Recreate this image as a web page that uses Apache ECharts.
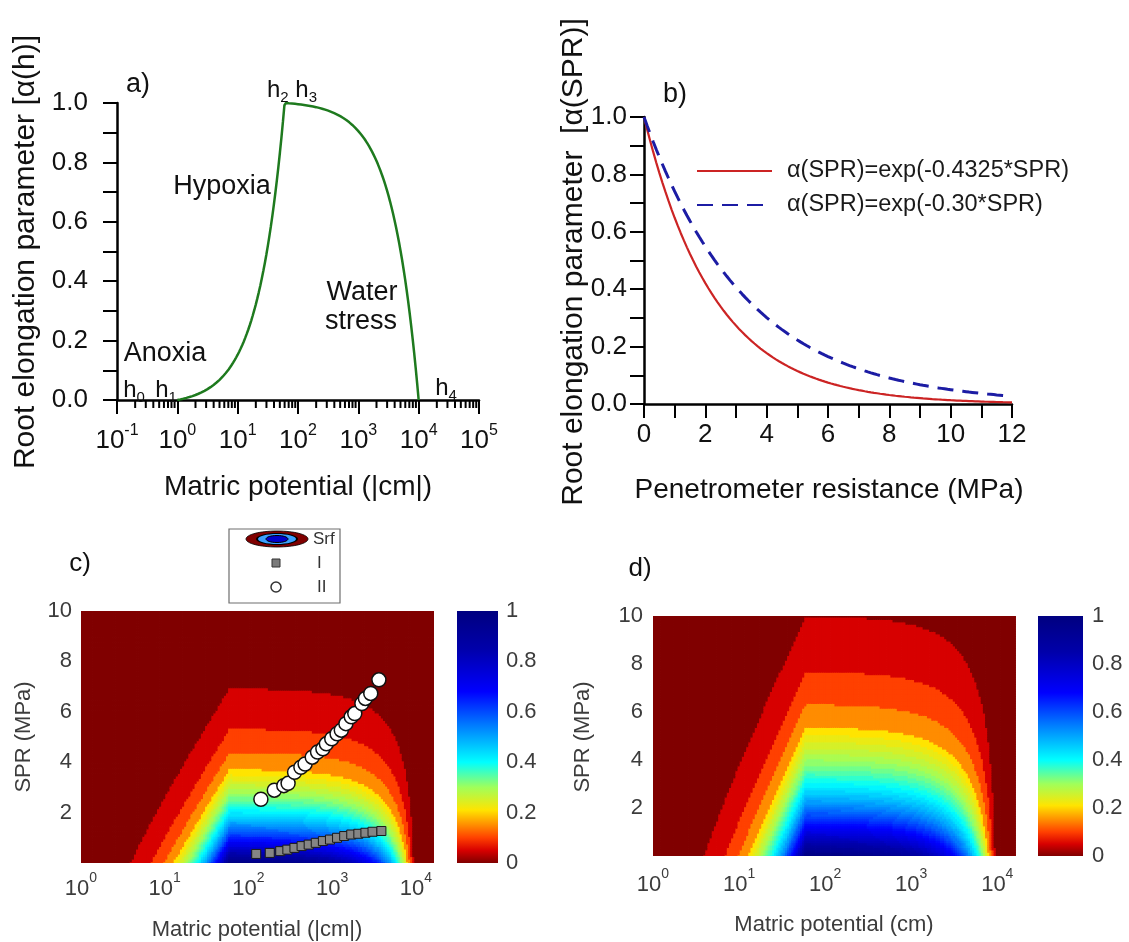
<!DOCTYPE html>
<html>
<head>
<meta charset="utf-8">
<title>Root elongation parameter</title>
<script src="https://cdn.jsdelivr.net/npm/echarts@6.0.0/dist/echarts.min.js"></script>
<style>
  html, body { margin: 0; padding: 0; background: #ffffff; }
  #main { width: 1129px; height: 942px; }
</style>
</head>
<body>
<div id="main"></div>
<script>
const FONT = '"Liberation Sans", Arial, Helvetica, sans-serif';

// a) log10 |h| (cm) and alpha(h) (also the columns of c and d)
const logH = [
  0, 0.025, 0.05, 0.075, 0.1, 0.125, 0.15, 0.175, 0.2, 0.225, 0.25, 0.275, 0.3, 0.325, 0.35, 0.375, 0.4, 0.425, 0.45, 0.475,
  0.5, 0.525, 0.55, 0.575, 0.6, 0.625, 0.65, 0.675, 0.7, 0.725, 0.75, 0.775, 0.8, 0.825, 0.85, 0.875, 0.9, 0.925, 0.95, 0.975,
  1, 1.025, 1.05, 1.075, 1.1, 1.125, 1.15, 1.175, 1.2, 1.225, 1.25, 1.275, 1.3, 1.325, 1.35, 1.375, 1.4, 1.425, 1.45, 1.475,
  1.5, 1.525, 1.55, 1.575, 1.6, 1.625, 1.65, 1.675, 1.7, 1.725, 1.75, 1.775, 1.8, 1.825, 1.85, 1.875, 1.9, 1.925, 1.95, 1.975,
  2, 2.025, 2.05, 2.075, 2.1, 2.125, 2.15, 2.175, 2.2, 2.225, 2.25, 2.275, 2.3, 2.325, 2.35, 2.375, 2.4, 2.425, 2.45, 2.475,
  2.5, 2.525, 2.55, 2.575, 2.6, 2.625, 2.65, 2.675, 2.7, 2.725, 2.75, 2.775, 2.8, 2.825, 2.85, 2.875, 2.9, 2.925, 2.95, 2.975,
  3, 3.025, 3.05, 3.075, 3.1, 3.125, 3.15, 3.175, 3.2, 3.225, 3.25, 3.275, 3.3, 3.325, 3.35, 3.375, 3.4, 3.425, 3.45, 3.475,
  3.5, 3.525, 3.55, 3.575, 3.6, 3.625, 3.65, 3.675, 3.7, 3.725, 3.75, 3.775, 3.8, 3.825, 3.85, 3.875, 3.9, 3.925, 3.95, 3.975,
  4, 4.025, 4.05, 4.075, 4.1, 4.125, 4.15, 4.175, 4.2];
const alphaH = [
  0, 0.0010, 0.0021, 0.0032, 0.0044, 0.0057, 0.0070, 0.0084, 0.0099, 0.0115, 0.0132, 0.0150, 0.0169, 0.0189, 0.0210, 0.0232, 0.0256, 0.0281, 0.0308, 0.0337,
  0.0366, 0.0398, 0.0432, 0.0468, 0.0505, 0.0545, 0.0588, 0.0632, 0.0680, 0.0730, 0.0784, 0.0840, 0.0900, 0.0963, 0.1030, 0.1102, 0.1177, 0.1257, 0.1341, 0.1431,
  0.1525, 0.1626, 0.1732, 0.1845, 0.1964, 0.2091, 0.2225, 0.2366, 0.2517, 0.2676, 0.2845, 0.3023, 0.3212, 0.3413, 0.3625, 0.3850, 0.4088, 0.4340, 0.4607, 0.4891,
  0.5190, 0.5508, 0.5844, 0.6201, 0.6578, 0.6978, 0.7401, 0.7850, 0.8325, 0.8828, 0.9362, 0.9927, 1.0000, 0.9993, 0.9989, 0.9985, 0.9980, 0.9976, 0.9971, 0.9965,
  0.9960, 0.9954, 0.9947, 0.9941, 0.9933, 0.9926, 0.9918, 0.9910, 0.9901, 0.9891, 0.9881, 0.9871, 0.9860, 0.9848, 0.9835, 0.9822, 0.9808, 0.9793, 0.9777, 0.9760,
  0.9742, 0.9723, 0.9703, 0.9682, 0.9660, 0.9636, 0.9611, 0.9584, 0.9556, 0.9526, 0.9495, 0.9461, 0.9426, 0.9388, 0.9348, 0.9306, 0.9261, 0.9214, 0.9164, 0.9111,
  0.9054, 0.8995, 0.8932, 0.8865, 0.8794, 0.8719, 0.8639, 0.8555, 0.8466, 0.8371, 0.8271, 0.8165, 0.8053, 0.7934, 0.7808, 0.7675, 0.7533, 0.7384, 0.7225, 0.7057,
  0.6879, 0.6690, 0.6491, 0.6279, 0.6055, 0.5818, 0.5567, 0.5300, 0.5018, 0.4720, 0.4403, 0.4068, 0.3713, 0.3337, 0.2938, 0.2516, 0.2069, 0.1596, 0.1094, 0.0563,
  0, 0, 0, 0, 0, 0, 0, 0, 0];
const curveEnd = 161; // green line stops at h4 = 10^4

// b) penetrometer resistance (MPa) and the two alpha(SPR) curves
const spr = [
  0, 0.1, 0.2, 0.3, 0.4, 0.5, 0.6, 0.7, 0.8, 0.9, 1, 1.1, 1.2, 1.3, 1.4, 1.5, 1.6, 1.7, 1.8, 1.9,
  2, 2.1, 2.2, 2.3, 2.4, 2.5, 2.6, 2.7, 2.8, 2.9, 3, 3.1, 3.2, 3.3, 3.4, 3.5, 3.6, 3.7, 3.8, 3.9,
  4, 4.1, 4.2, 4.3, 4.4, 4.5, 4.6, 4.7, 4.8, 4.9, 5, 5.1, 5.2, 5.3, 5.4, 5.5, 5.6, 5.7, 5.8, 5.9,
  6, 6.1, 6.2, 6.3, 6.4, 6.5, 6.6, 6.7, 6.8, 6.9, 7, 7.1, 7.2, 7.3, 7.4, 7.5, 7.6, 7.7, 7.8, 7.9,
  8, 8.1, 8.2, 8.3, 8.4, 8.5, 8.6, 8.7, 8.8, 8.9, 9, 9.1, 9.2, 9.3, 9.4, 9.5, 9.6, 9.7, 9.8, 9.9,
  10, 10.1, 10.2, 10.3, 10.4, 10.5, 10.6, 10.7, 10.8, 10.9, 11, 11.1, 11.2, 11.3, 11.4, 11.5, 11.6, 11.7, 11.8, 11.9, 12];
const alphaSprRed = [
  1, 0.9577, 0.9171, 0.8783, 0.8411, 0.8055, 0.7714, 0.7388, 0.7075, 0.6776, 0.6489, 0.6214, 0.5951, 0.5700, 0.5458, 0.5227, 0.5006, 0.4794, 0.4591, 0.4397,
  0.4211, 0.4032, 0.3862, 0.3698, 0.3542, 0.3392, 0.3248, 0.3111, 0.2979, 0.2853, 0.2732, 0.2617, 0.2506, 0.2400, 0.2298, 0.2201, 0.2108, 0.2018, 0.1933, 0.1851,
  0.1773, 0.1698, 0.1626, 0.1557, 0.1491, 0.1428, 0.1368, 0.1310, 0.1254, 0.1201, 0.1150, 0.1102, 0.1055, 0.1010, 0.0968, 0.0927, 0.0887, 0.0850, 0.0814, 0.0779,
  0.0746, 0.0715, 0.0685, 0.0656, 0.0628, 0.0601, 0.0576, 0.0551, 0.0528, 0.0506, 0.0484, 0.0464, 0.0444, 0.0425, 0.0407, 0.0390, 0.0374, 0.0358, 0.0343, 0.0328,
  0.0314, 0.0301, 0.0288, 0.0276, 0.0264, 0.0253, 0.0243, 0.0232, 0.0222, 0.0213, 0.0204, 0.0195, 0.0187, 0.0179, 0.0171, 0.0164, 0.0157, 0.0150, 0.0144, 0.0138,
  0.0132, 0.0127, 0.0121, 0.0116, 0.0111, 0.0107, 0.0102, 0.0098, 0.0094, 0.0090, 0.0086, 0.0082, 0.0079, 0.0075, 0.0072, 0.0069, 0.0066, 0.0063, 0.0061, 0.0058, 0.0056];
const alphaSprBlue = [
  1, 0.9704, 0.9418, 0.9139, 0.8869, 0.8607, 0.8353, 0.8106, 0.7866, 0.7634, 0.7408, 0.7189, 0.6977, 0.6771, 0.6570, 0.6376, 0.6188, 0.6005, 0.5827, 0.5655,
  0.5488, 0.5326, 0.5169, 0.5016, 0.4868, 0.4724, 0.4584, 0.4449, 0.4317, 0.4190, 0.4066, 0.3946, 0.3829, 0.3716, 0.3606, 0.3499, 0.3396, 0.3296, 0.3198, 0.3104,
  0.3012, 0.2923, 0.2837, 0.2753, 0.2671, 0.2592, 0.2516, 0.2441, 0.2369, 0.2299, 0.2231, 0.2165, 0.2101, 0.2039, 0.1979, 0.1920, 0.1864, 0.1809, 0.1755, 0.1703,
  0.1653, 0.1604, 0.1557, 0.1511, 0.1466, 0.1423, 0.1381, 0.1340, 0.1300, 0.1262, 0.1225, 0.1188, 0.1153, 0.1119, 0.1086, 0.1054, 0.1023, 0.0993, 0.0963, 0.0935,
  0.0907, 0.0880, 0.0854, 0.0829, 0.0805, 0.0781, 0.0758, 0.0735, 0.0714, 0.0693, 0.0672, 0.0652, 0.0633, 0.0614, 0.0596, 0.0578, 0.0561, 0.0545, 0.0529, 0.0513,
  0.0498, 0.0483, 0.0469, 0.0455, 0.0442, 0.0429, 0.0416, 0.0404, 0.0392, 0.0380, 0.0369, 0.0358, 0.0347, 0.0337, 0.0327, 0.0317, 0.0308, 0.0299, 0.0290, 0.0282, 0.0273];
const legendB = ['α(SPR)=exp(-0.4325*SPR)', 'α(SPR)=exp(-0.30*SPR)'];

// c) measured profiles, [|h| cm, SPR MPa]
const profileI = [[124, 0.36], [180, 0.40], [240, 0.47], [292, 0.53], [355, 0.60], [432, 0.67], [525, 0.73], [638, 0.80], [776, 0.87],
  [943, 0.93], [1146, 1.00], [1394, 1.07], [1694, 1.13], [2059, 1.16], [2501, 1.20], [3041, 1.24], [3882, 1.27]];
const profileII = [[141, 2.53], [204, 2.89], [265, 3.07], [298, 3.16], [356, 3.60], [424, 3.80], [476, 3.93], [579, 4.20], [670, 4.40],
  [776, 4.53], [855, 4.73], [990, 4.93], [1146, 5.13], [1288, 5.27], [1462, 5.53], [1694, 5.80], [1866, 5.93], [2269, 6.33],
  [2501, 6.53], [2897, 6.73], [3624, 7.27]];

// colour scale of the surfaces and colour bars
const cmap = [
  [0.00, [128, 0, 0]], [0.05, [215, 0, 0]], [0.10, [255, 64, 0]], [0.15, [255, 140, 0]],
  [0.21, [255, 228, 0]], [0.30, [160, 255, 90]], [0.40, [0, 255, 255]], [0.55, [0, 120, 255]],
  [0.68, [0, 0, 255]], [0.85, [0, 0, 170]], [1.00, [0, 0, 128]]
];

function cmapColor(v) {
  v = Math.max(0, Math.min(1, v));
  for (let k = 1; k < cmap.length; k++) {
    if (v <= cmap[k][0]) {
      const a = cmap[k - 1], b = cmap[k];
      const t = (v - a[0]) / (b[0] - a[0]);
      const c = a[1].map((x, n) => Math.round(x + (b[1][n] - x) * t));
      return 'rgb(' + c.join(',') + ')';
    }
  }
  return 'rgb(0,0,128)';
}

// filled contour look: coarse levels at the red end, fine above
function bandColor(v) {
  const q = v < 0.2 ? Math.floor(v / 0.05) * 0.05 : Math.floor(v / 0.02) * 0.02 + 0.01;
  return cmapColor(q);
}

// table of cells for the custom series: alpha(h) x alpha(SPR)
function surface(alphaS) {
  const cells = [];
  for (let i = 0; i < logH.length; i++) {
    for (let j = 0; j < spr.length && spr[j] <= 10; j++) {
      cells.push([Math.pow(10, logH[i] - 0.0125), Math.pow(10, logH[i] + 0.0125),
        spr[j] - 0.05, spr[j] + 0.05, alphaH[i] * alphaS[j]]);
    }
  }
  return cells;
}

function renderCell(params, api) {
  const lo = api.coord([api.value(0), api.value(2)]);
  const hi = api.coord([api.value(1), api.value(3)]);
  const cs = params.coordSys;
  const shape = echarts.graphic.clipRectByRect(
    { x: lo[0] - 0.4, y: hi[1] - 0.4, width: hi[0] - lo[0] + 0.8, height: lo[1] - hi[1] + 0.8 },
    { x: cs.x, y: cs.y, width: cs.width, height: cs.height });
  if (!shape) return null;
  return { type: 'rect', shape: shape, style: { fill: bandColor(api.value(4)) } };
}

// log minor ticks of panel a
const minorA = [];
for (let k = -1; k < 5; k++) for (let m = 2; m < 10; m++) minorA.push([m * Math.pow(10, k), 0]);

function renderMinor(params, api) {
  const p = api.coord([api.value(0), 0]);
  return { type: 'line', shape: { x1: p[0], y1: p[1], x2: p[0], y2: p[1] + 8 }, style: { stroke: '#000', lineWidth: 2 } };
}

function powLabel(v) {
  const e = Math.log10(v);
  if (Math.abs(e - Math.round(e)) > 1e-6) return '';
  return '{b|10}{e|' + Math.round(e) + '}';
}

// superscript: the exponent box is padded below so its text sits high
function powRich(size, sup, raise, color) {
  return {
    b: { fontSize: size, lineHeight: size, verticalAlign: 'middle', fontFamily: FONT, color: color },
    e: { fontSize: sup, lineHeight: sup, verticalAlign: 'middle', padding: [0, 0, raise, 0], fontFamily: FONT, color: color }
  };
}

const black = { axisLine: { lineStyle: { color: '#000', width: 2.5 } }, axisTick: { length: 14, lineStyle: { color: '#000', width: 2 } } };
const hidden = { axisLine: { show: false }, axisTick: { show: false }, splitLine: { show: false } };
const grey = '#3c3c3c';

function colorBar(x, y, w, h) {
  const stops = cmap.map(s => ({ offset: 1 - s[0], color: 'rgb(' + s[1].join(',') + ')' })).reverse();
  return { type: 'rect', shape: { x: x, y: y, width: w, height: h }, style: { fill: new echarts.graphic.LinearGradient(0, 0, 0, 1, stops) }, z: 5 };
}

function txt(text, x, y, size, opts) {
  return Object.assign({ type: 'text', x: x, y: y, z: 20,
    style: Object.assign({ text: text, fontFamily: FONT, fontSize: size, fill: '#111', align: 'center', verticalAlign: 'middle' }, (opts && opts.style) || {}) },
    (opts && opts.el) || {});
}

// subscript: the index box is padded above so its text sits low
const hRich = {
  h: { fontSize: 24, lineHeight: 24, verticalAlign: 'middle', fontFamily: FONT, color: '#111' },
  s: { fontSize: 15, lineHeight: 15, verticalAlign: 'middle', padding: [16, 0, 0, 0], fontFamily: FONT, color: '#111' }
};

const chart = echarts.init(document.getElementById('main'), null, { renderer: 'canvas' });

chart.setOption({
  animation: false,
  backgroundColor: '#ffffff',
  grid: [
    { left: 117, top: 103, width: 362, height: 297, outerBoundsMode: 'none' },
    { left: 644, top: 117, width: 368, height: 287, outerBoundsMode: 'none' },
    { left: 81, top: 611, width: 353, height: 252, outerBoundsMode: 'none' },
    { left: 457, top: 611, width: 41, height: 252, outerBoundsMode: 'none' },
    { left: 653, top: 616, width: 363, height: 240, outerBoundsMode: 'none' },
    { left: 1038, top: 616, width: 45, height: 240, outerBoundsMode: 'none' }
  ],
  xAxis: [
    Object.assign({ gridIndex: 0, type: 'log', logBase: 10, min: 0.1, max: 100000, splitLine: { show: false },
      axisLabel: { margin: 28, formatter: powLabel, rich: powRich(26, 16, 21, '#111') } }, black),
    Object.assign({ gridIndex: 1, type: 'value', min: 0, max: 12, interval: 1, splitLine: { show: false },
      axisLabel: { margin: 18, fontSize: 26, fontFamily: FONT, color: '#111', formatter: v => (v % 2 === 0 ? String(v) : '') } }, black),
    Object.assign({ gridIndex: 2, type: 'log', logBase: 10, min: 1, max: 16500,
      axisLabel: { margin: 15, formatter: powLabel, rich: powRich(22, 14, 22, grey) } }, hidden),
    Object.assign({ gridIndex: 3, type: 'value', min: 0, max: 1, axisLabel: { show: false } }, hidden),
    Object.assign({ gridIndex: 4, type: 'log', logBase: 10, min: 1, max: 16500,
      axisLabel: { margin: 18, formatter: powLabel, rich: powRich(22, 14, 22, grey) } }, hidden),
    Object.assign({ gridIndex: 5, type: 'value', min: 0, max: 1, axisLabel: { show: false } }, hidden)
  ],
  yAxis: [
    Object.assign({ gridIndex: 0, type: 'value', min: 0, max: 1, interval: 0.1, splitLine: { show: false },
      axisLabel: { margin: 29, fontSize: 26, fontFamily: FONT, color: '#111', formatter: v => (Math.round(v * 10) % 2 === 0 ? v.toFixed(1) : '') } }, black),
    Object.assign({ gridIndex: 1, type: 'value', min: 0, max: 1, interval: 0.1, splitLine: { show: false },
      axisLabel: { margin: 17, fontSize: 26, fontFamily: FONT, color: '#111', formatter: v => (Math.round(v * 10) % 2 === 0 ? v.toFixed(1) : '') } }, black),
    Object.assign({ gridIndex: 2, type: 'value', min: 0, max: 10, interval: 2,
      axisLabel: { margin: 9, fontSize: 22, fontFamily: FONT, color: grey, formatter: v => (v === 0 ? '' : String(v)) } }, hidden),
    Object.assign({ gridIndex: 3, type: 'value', min: 0, max: 1, interval: 0.2, position: 'right',
      axisLabel: { margin: 8, fontSize: 22, fontFamily: FONT, color: grey, formatter: v => (v === 0 || v === 1 ? String(v) : v.toFixed(1)) } }, hidden),
    Object.assign({ gridIndex: 4, type: 'value', min: 0, max: 10, interval: 2,
      axisLabel: { margin: 10, fontSize: 22, fontFamily: FONT, color: grey, formatter: v => (v === 0 ? '' : String(v)) } }, hidden),
    Object.assign({ gridIndex: 5, type: 'value', min: 0, max: 1, interval: 0.2, position: 'right',
      axisLabel: { margin: 9, fontSize: 22, fontFamily: FONT, color: grey, formatter: v => (v === 0 || v === 1 ? String(v) : v.toFixed(1)) } }, hidden)
  ],
  legend: {
    data: legendB, orient: 'vertical', left: 691, top: 154, itemWidth: 75, itemHeight: 14, itemGap: 10,
    selectedMode: false,
    itemStyle: { opacity: 0 },
    textStyle: { fontFamily: FONT, fontSize: 23.5, color: '#1a1a1a', padding: [0, 0, 0, 10] }
  },
  series: [
    {
      name: 'alpha(h)', type: 'line', xAxisIndex: 0, yAxisIndex: 0, symbol: 'none',
      lineStyle: { color: '#1e7a1e', width: 2.5 },
      data: logH.slice(0, curveEnd).map((L, i) => [Math.pow(10, L), alphaH[i]]), z: 3
    },
    {
      type: 'custom', xAxisIndex: 0, yAxisIndex: 0, renderItem: renderMinor, data: minorA, silent: true
    },
    {
      name: legendB[0], type: 'line', xAxisIndex: 1, yAxisIndex: 1, symbol: 'none',
      itemStyle: { color: '#cc2424' }, lineStyle: { color: '#cc2424', width: 2.2 },
      data: spr.map((s, i) => [s, alphaSprRed[i]])
    },
    {
      name: legendB[1], type: 'line', xAxisIndex: 1, yAxisIndex: 1, symbol: 'none',
      itemStyle: { color: '#1c1ca4' }, lineStyle: { color: '#1c1ca4', width: 3, type: [16, 9] },
      data: spr.map((s, i) => [s, alphaSprBlue[i]])
    },
    {
      name: 'Srf c', type: 'custom', xAxisIndex: 2, yAxisIndex: 2, renderItem: renderCell,
      encode: { x: [0, 1], y: [2, 3] }, data: surface(alphaSprRed), silent: true, progressive: 0, z: 1
    },
    {
      name: 'I', type: 'scatter', xAxisIndex: 2, yAxisIndex: 2, symbol: 'rect', symbolSize: 9,
      itemStyle: { color: '#858585', borderColor: '#1a1a1a', borderWidth: 1, opacity: 1 }, data: profileI, z: 4
    },
    {
      name: 'II', type: 'scatter', xAxisIndex: 2, yAxisIndex: 2, symbol: 'circle', symbolSize: 14,
      itemStyle: { color: '#ffffff', borderColor: '#111', borderWidth: 1.5, opacity: 1 }, data: profileII, z: 5
    },
    {
      name: 'Srf d', type: 'custom', xAxisIndex: 4, yAxisIndex: 4, renderItem: renderCell,
      encode: { x: [0, 1], y: [2, 3] }, data: surface(alphaSprBlue), silent: true, progressive: 0, z: 1
    }
  ],
  graphic: [
    // panel a
    txt('a)', 138, 85, 27),
    txt('Hypoxia', 222, 187, 27),
    txt('Water', 362, 293, 27),
    txt('stress', 361, 322, 27),
    txt('Anoxia', 165, 354, 27),
    txt('{h|h}{s|0}', 134, 390, 24, { style: { rich: hRich } }),
    txt('{h|h}{s|1}', 166, 390, 24, { style: { rich: hRich } }),
    txt('{h|h}{s|2} {h|h}{s|3}', 292, 90, 24, { style: { rich: hRich } }),
    txt('{h|h}{s|4}', 446, 388, 24, { style: { rich: hRich } }),
    txt('Root elongation parameter [α(h)]', 26, 252, 30, { el: { rotation: Math.PI / 2 } }),
    txt('Matric potential (|cm|)', 298, 487, 28),
    // panel b
    txt('b)', 675, 95, 27),
    txt('Root elongation parameter  [α(SPR)]', 574, 262, 30, { el: { rotation: Math.PI / 2 } }),
    txt('Penetrometer resistance (MPa)', 829, 490, 28),
    // panel c
    txt('c)', 80, 564, 26),
    txt('SPR (MPa)', 24, 737, 22, { style: { fill: grey }, el: { rotation: Math.PI / 2 } }),
    txt('Matric potential (|cm|)', 257, 930, 22, { style: { fill: grey } }),
    colorBar(457, 611, 41, 252),
    { type: 'rect', z: 20, shape: { x: 229, y: 529, width: 111, height: 74 }, style: { fill: '#fff', stroke: '#6e6e6e', lineWidth: 1.2 } },
    { type: 'ellipse', z: 21, shape: { cx: 277, cy: 539, rx: 31, ry: 8 }, style: { fill: '#800000', stroke: '#000', lineWidth: 0.8 } },
    { type: 'ellipse', z: 22, shape: { cx: 277, cy: 539, rx: 21, ry: 6 }, style: { fill: '#000' } },
    { type: 'ellipse', z: 23, shape: { cx: 277, cy: 539, rx: 19, ry: 5 }, style: { fill: '#3aa0ff' } },
    { type: 'ellipse', z: 24, shape: { cx: 277, cy: 539, rx: 11, ry: 3.5 }, style: { fill: '#0000cc', stroke: '#000', lineWidth: 1 } },
    txt('Srf', 313, 539, 17, { style: { align: 'left', fill: '#333' } }),
    { type: 'rect', z: 21, shape: { x: 272, y: 559, width: 8, height: 8 }, style: { fill: '#7a7a7a', stroke: '#333', lineWidth: 1 } },
    txt('I', 317, 563, 17, { style: { align: 'left', fill: '#333' } }),
    { type: 'circle', z: 21, shape: { cx: 276, cy: 587, r: 5 }, style: { fill: '#fff', stroke: '#333', lineWidth: 1.5 } },
    txt('II', 317, 587, 17, { style: { align: 'left', fill: '#333' } }),
    // panel d
    txt('d)', 640, 569, 26),
    txt('SPR (MPa)', 583, 737, 22, { style: { fill: grey }, el: { rotation: Math.PI / 2 } }),
    txt('Matric potential (cm)', 834, 925, 22, { style: { fill: grey } }),
    colorBar(1038, 616, 45, 240)
  ]
});
</script>
</body>
</html>
